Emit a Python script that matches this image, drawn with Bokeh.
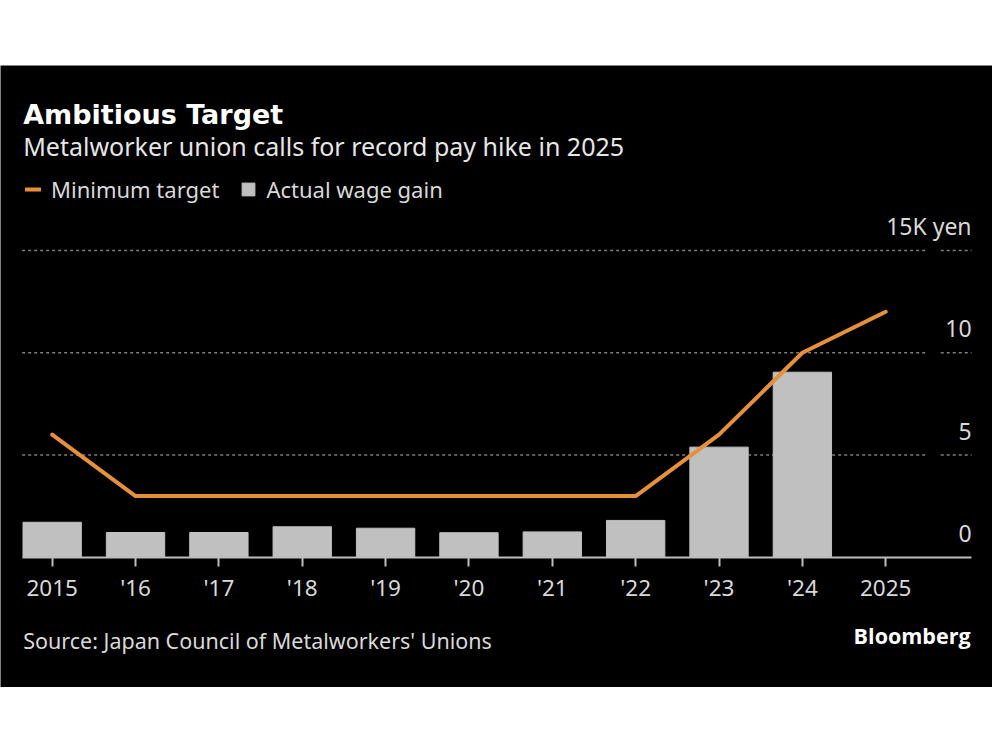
from bokeh.plotting import figure
from bokeh.models import Range1d, FixedTicker, Label, Legend, LegendItem, Spacer
from bokeh.layouts import column
from bokeh.embed import file_html
from bokeh.resources import INLINE
from bokeh.core.properties import value

# ---- data ----
years = ["2015", "'16", "'17", "'18", "'19", "'20", "'21", "'22", "'23", "'24", "2025"]
actual_wage_gain = [1.72, 1.22, 1.22, 1.50, 1.43, 1.21, 1.25, 1.81, 5.39, 9.05, float("nan")]
minimum_target = [6, 3, 3, 3, 3, 3, 3, 3, 6, 10, 12]
y_ticks = [0, 5, 10, 15]
y_tick_labels = ["0", "5", "10", "15K yen"]

FONT = "Noto Sans"
BG = "#000000"
ORANGE = "#e6913a"
BAR = "#c0c0c0"
GRID = "#7e7e7e"
TXT = "#d9d9d9"

x = list(range(len(years)))
W, H = 992, 622
# plotting area of the chart (axis extent) in data units
AX0, AX1 = -0.36, 11.03
# whole panel in data units
X0, X1 = -0.62, 11.281
Y0, Y1 = -6.35, 24.03

p = figure(width=W, height=H, output_backend="svg", toolbar_location=None,
           x_range=Range1d(X0, X1), y_range=Range1d(Y0, Y1),
           background_fill_color=BG, border_fill_color=BG, min_border=0)
p.outline_line_color = None
p.grid.visible = False
p.yaxis.visible = False

# dotted gridlines (with a gap before the right-hand labels)
gl = [t for t in y_ticks if t != 0]
p.segment(x0=AX0, y0=gl, x1=10.48, y1=gl, line_color=GRID, line_width=1.5, line_dash="3 3")
p.segment(x0=10.66, y0=gl, x1=AX1, y1=gl, line_color=GRID, line_width=1.5, line_dash="3 3")

# y labels inside the plot on the right
p.text(x=AX1, y=y_ticks, text=y_tick_labels, text_align="right", text_baseline="alphabetic",
       y_offset=-24, text_font=value(FONT), text_font_size="23px", text_color=TXT)

bars = p.vbar(x=x, top=actual_wage_gain, width=0.70, color=BAR)
line = p.line(x, minimum_target, line_color=ORANGE, line_width=4, line_cap="round", line_join="round")

# x axis at zero
xa = p.xaxis[0]
xa.fixed_location = 0
xa.bounds = (AX0, AX1)
xa.ticker = FixedTicker(ticks=x)
xa.major_label_overrides = {i: years[i] for i in x}
xa.axis_line_color = "#bdbdbd"
xa.axis_line_width = 2
xa.major_tick_line_color = "#bdbdbd"
xa.major_tick_line_width = 2
xa.major_tick_out = 9
xa.major_tick_in = 0
xa.minor_tick_line_color = None
xa.major_label_text_font = FONT
xa.major_label_text_font_size = "22.5px"
xa.major_label_text_color = TXT
xa.major_label_standoff = 6

# legend
legend = Legend(items=[LegendItem(label="Minimum target", renderers=[line]),
                       LegendItem(label="Actual wage gain", renderers=[bars])],
                orientation="horizontal", location=(25, 483),
                background_fill_alpha=0, border_line_alpha=0, padding=0, margin=0,
                spacing=21, label_standoff=10, glyph_width=16, glyph_height=16,
                label_text_font=FONT, label_text_font_size="22px", label_text_color=TXT)
p.add_layout(legend)

def lab(text, xa_, ya_, xo, yo, font, size, color, style="normal", align="left"):
    p.add_layout(Label(x=xa_, y=ya_, x_offset=xo, y_offset=yo, text=text, text_font=font,
                       text_font_size=size, text_font_style=style, text_color=color,
                       text_align=align, text_baseline="alphabetic"))

# titles
lab("Ambitious Target", AX0, Y1, 1, -49, "DejaVu Sans", "27px", "#ffffff", "bold")
lab("Metalworker union calls for record pay hike in 2025", AX0, Y1, 1, -80,
    FONT, "25px", "#e6e6e6")
# footer
lab("Source: Japan Council of Metalworkers' Unions", AX0, 0, 1, -83, FONT, "21.5px", TXT)
lab("Bloomberg", AX1, 0, -1, -78, "Open Sans", "21.5px", "#ffffff", "bold", "right")

layout = column(Spacer(height=65, width=W), p, spacing=0)
open("out.html", "w").write(file_html(layout, INLINE))
